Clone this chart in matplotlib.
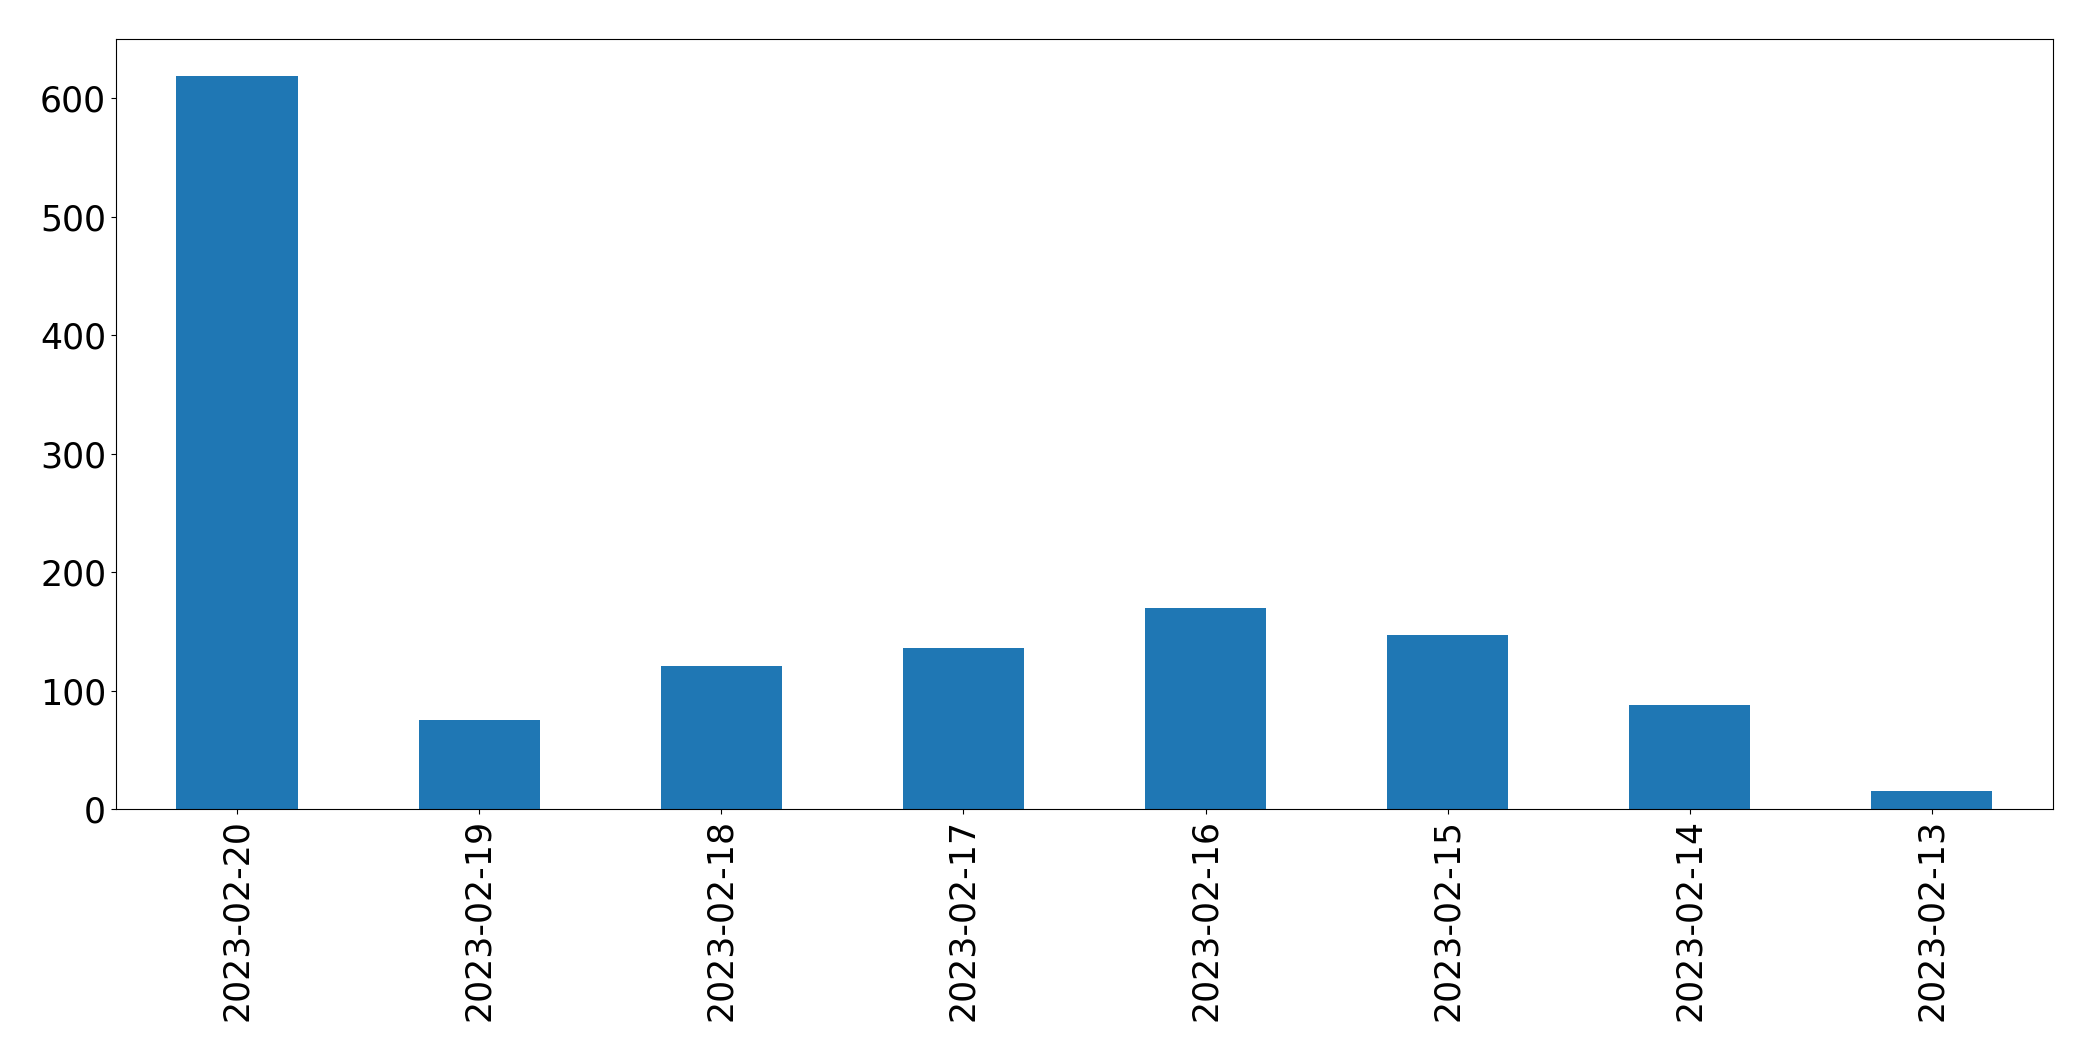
import matplotlib
matplotlib.use("Agg")
import matplotlib.pyplot as plt

dates = ['2023-02-20', '2023-02-19', '2023-02-18', '2023-02-17',
         '2023-02-16', '2023-02-15', '2023-02-14', '2023-02-13']
counts = [619, 75, 121, 136, 170, 147, 88, 15]

fig = plt.figure(figsize=(20.93, 10.61), dpi=100)
ax = fig.add_subplot(111)
fig.subplots_adjust(left=0.0554, right=0.9809, top=0.9632, bottom=0.2375)

x = range(len(dates))
ax.bar(x, counts, width=0.5, color='#1f77b4')
ax.set_xlim(-0.5, len(dates) - 0.5)
ax.set_xticks(list(x))
ax.set_xticklabels(dates, rotation=90)
ax.tick_params(labelsize=25)

plt.savefig('out.png', dpi=100)
